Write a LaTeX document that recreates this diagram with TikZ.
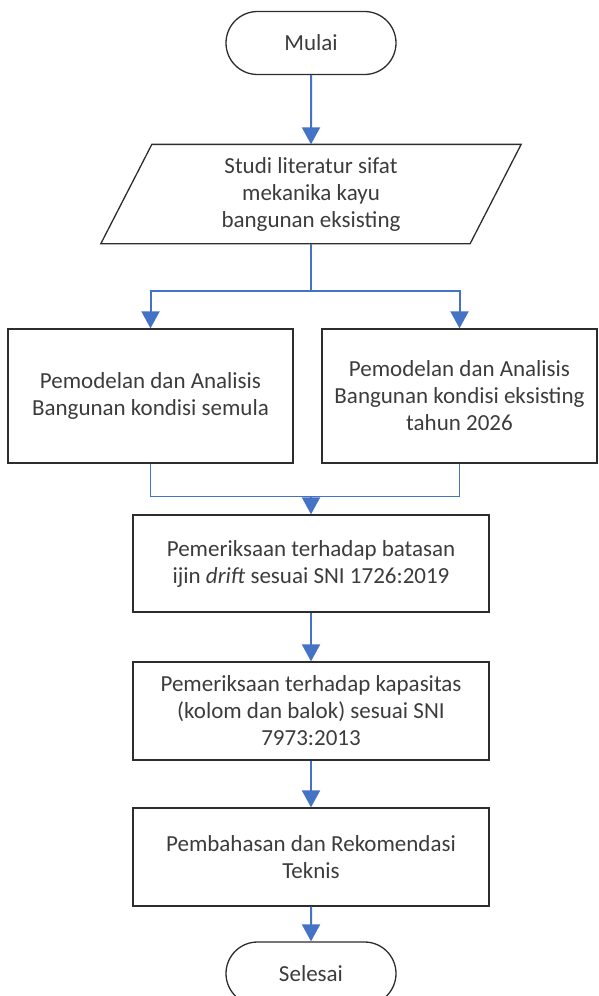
\documentclass[tikz,border=0pt]{standalone}
\usepackage{fontspec}
\setmainfont{Carlito}
\usetikzlibrary{arrows.meta, positioning, calc, shapes.misc}
\definecolor{flowblue}{RGB}{68,114,196}
\definecolor{edge}{RGB}{45,45,45}
\definecolor{ink}{RGB}{60,60,60}

\begin{document}
\begin{tikzpicture}[x=1pt, y=-1pt,
  box/.style={draw=edge, line width=1.3pt, text=ink, align=center,
    font=\fontsize{23}{27}\selectfont, inner sep=0pt},
  terminal/.style={box, rounded rectangle, minimum width=170pt, minimum height=63pt},
  flow/.style={flowblue, line width=2pt, -{Triangle[width=18pt,length=17pt]}},
  link/.style={flowblue, line width=1.3pt}]
  \useasboundingbox (0,0) rectangle (598,996);
  % start / end
  \node[terminal] (mulai) at (311,43) {Mulai};
  \node[terminal] (selesai) at (311,973.5) {Selesai};
  % input: literature study
  \node[box, draw=none, minimum width=368pt, minimum height=98pt] (studi) at (311,194)
    {Studi literatur sifat\\mekanika kayu\\bangunan eksisting};
  \draw[edge, line width=1.3pt] ($(studi.north west)+(25.5,0)$) -- ($(studi.north east)+(25.5,0)$)
    -- ($(studi.south east)+(-25.5,0)$) -- ($(studi.south west)+(-25.5,0)$) -- cycle;
  % two models
  \node[box, minimum width=285pt, minimum height=134pt] (semula) at (150.5,396)
    {Pemodelan dan Analisis\\Bangunan kondisi semula};
  \node[box, minimum width=275pt, minimum height=134pt] (eksisting) at (459.5,396)
    {Pemodelan dan Analisis\\Bangunan kondisi eksisting\\tahun 2026};
  % checks
  \node[box, minimum width=356pt, minimum height=97pt] (drift) at (311,563.5)
    {Pemeriksaan terhadap batasan\\ijin \textit{drift} sesuai SNI 1726:2019};
  \node[box, minimum width=356pt, minimum height=98pt] (kapasitas) at (311,711)
    {Pemeriksaan terhadap kapasitas\\(kolom dan balok) sesuai SNI\\7973:2013};
  \node[box, minimum width=356pt, minimum height=98pt] (bahas) at (311,857)
    {Pembahasan dan Rekomendasi\\Teknis};
  % connectors
  \coordinate (split) at (311,291);
  \coordinate (join) at ($(drift.north)+(0,-18)$);
  \draw[flow] (mulai) -- (studi.north);
  \draw[link] (studi.south) -- (split);
  \draw[flow] (split) -| (semula.north);
  \draw[flow] (split) -| (eksisting.north);
  \draw[link] (semula.south) |- (join);
  \draw[link] (eksisting.south) |- (join);
  \draw[flow] (join) -- (drift.north);
  \draw[flow] (drift) -- (kapasitas);
  \draw[flow] (kapasitas) -- (bahas);
  \draw[flow] (bahas) -- (selesai);
\end{tikzpicture}
\end{document}
